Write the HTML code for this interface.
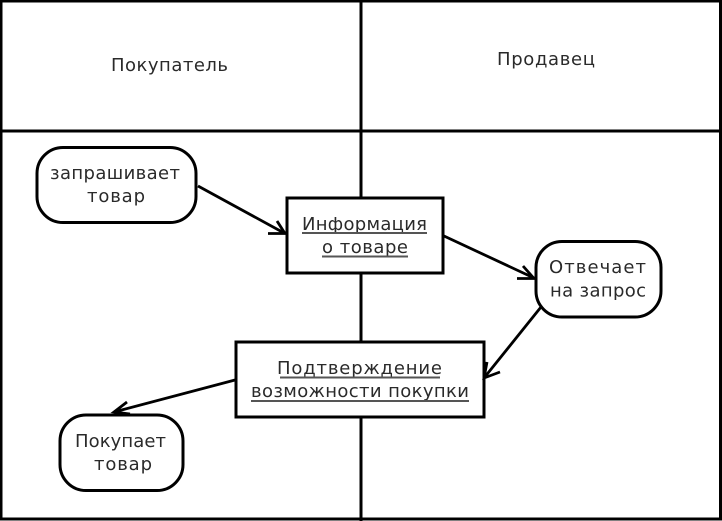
<!DOCTYPE html>
<html><head><meta charset="utf-8"><style>
html,body{margin:0;padding:0;background:#fff}
svg{display:block}
text{font-family:"DejaVu Sans","Liberation Sans",sans-serif;font-size:18px;fill:#2a2a2a;text-anchor:middle}
</style></head><body>
<svg width="722" height="521" viewBox="0 0 722 521" xmlns="http://www.w3.org/2000/svg">
<rect width="722" height="521" fill="#fff"/>
<g fill="none" stroke="#000" stroke-width="3">
<rect x="1" y="1" width="719.500" height="518"/>
<line x1="361" y1="0" x2="361" y2="521"/>
<line x1="0" y1="131" x2="722" y2="131"/>
</g>
<g fill="#fff" stroke="#000" stroke-width="3">
<rect x="37" y="147.500" width="159" height="75" rx="26" ry="26"/>
<rect x="287" y="198" width="156" height="75"/>
<rect x="536" y="241.500" width="125" height="75.500" rx="26" ry="26"/>
<rect x="236" y="342" width="248" height="75"/>
<rect x="60" y="415" width="123" height="75.500" rx="26" ry="26"/>
</g>
<g fill="none" stroke="#000" stroke-width="2.800">
<path d="M198 186L285 233.500M268 233.500H285L277 221"/>
<path d="M444 236L534 278M517 278.500H534L523 266"/>
<path d="M541 307L484 378M487 362L484 378L500 372"/>
<path d="M235 380L114 412M127 402L114 412L130 414"/>
</g>
<text x="115" y="179" textLength="130" lengthAdjust="spacing">запрашивает</text>
<text x="116" y="202" textLength="58" lengthAdjust="spacing">товар</text>
<text x="364.500" y="230" textLength="125" lengthAdjust="spacing">Информация</text>
<text x="365" y="253" textLength="86" lengthAdjust="spacing">о товаре</text>
<text x="597.500" y="273" textLength="97" lengthAdjust="spacing">Отвечает</text>
<text x="598" y="296.500" textLength="96" lengthAdjust="spacing">на запрос</text>
<text x="359.500" y="374" textLength="165" lengthAdjust="spacing">Подтверждение</text>
<text x="360" y="397" textLength="218" lengthAdjust="spacing">возможности покупки</text>
<text x="120.500" y="447" textLength="91" lengthAdjust="spacing">Покупает</text>
<text x="123" y="470" textLength="58" lengthAdjust="spacing">товар</text>
<text x="169.500" y="71" textLength="117" lengthAdjust="spacing">Покупатель</text>
<text x="546" y="65" textLength="98" lengthAdjust="spacing">Продавец</text>
<g stroke="#555" stroke-width="2">
<line x1="302" y1="233" x2="427" y2="233"/>
<line x1="322" y1="256.500" x2="408" y2="256.500"/>
<line x1="280" y1="377.500" x2="440" y2="377.500"/>
<line x1="251" y1="401" x2="469" y2="401"/>
</g>
</svg>
</body></html>
